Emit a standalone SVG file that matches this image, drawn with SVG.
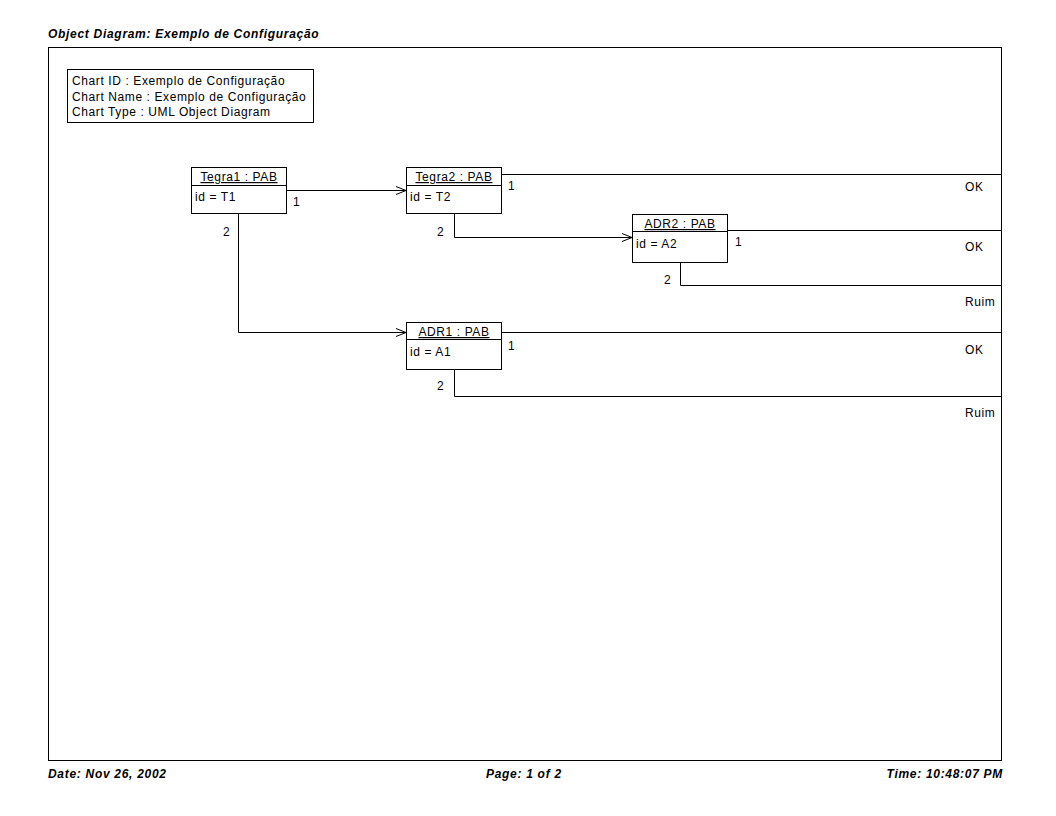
<svg xmlns="http://www.w3.org/2000/svg" width="1056" height="816" viewBox="0 0 1056 816">
<style>
text{font-family:"Liberation Sans",Arial,sans-serif;font-size:12px;fill:#000;letter-spacing:0.6px}
.hdr{font-weight:bold;font-style:italic;font-size:12px;letter-spacing:0.7px}
.box{fill:#fff;stroke:#000;stroke-width:1}
.ln{fill:none;stroke:#000;stroke-width:1}
.u{text-decoration:underline}
</style>
<defs>
<marker id="arr" viewBox="0 0 10 10" refX="10" refY="5" markerWidth="10" markerHeight="10" markerUnits="userSpaceOnUse" orient="auto">
<path d="M0,1 L10,5 L0,9" fill="none" stroke="#000" stroke-width="1"/>
</marker>
</defs>
<rect width="1056" height="816" fill="#fff"/>
<text class="hdr" x="48" y="38">Object Diagram: Exemplo de Configuração</text>
<rect x="48.5" y="47.5" width="953" height="713" class="ln"/>
<g id="info">
<rect x="67.5" y="69.5" width="246" height="53" class="box"/>
<text x="72" y="85">Chart ID : Exemplo de Configuração</text>
<text x="72" y="101">Chart Name : Exemplo de Configuração</text>
<text x="72" y="116">Chart Type : UML Object Diagram</text>
</g>
<g id="connectors">
<path class="ln" d="M287,190.5 H406" marker-end="url(#arr)"/>
<path class="ln" d="M238.5,214 V332.5 H406" marker-end="url(#arr)"/>
<path class="ln" d="M454.5,214 V237.5 H632" marker-end="url(#arr)"/>
<path class="ln" d="M502,174.5 H1001"/>
<path class="ln" d="M727,230.5 H1001"/>
<path class="ln" d="M680.5,262 V285.5 H1001"/>
<path class="ln" d="M502,332.5 H1001"/>
<path class="ln" d="M454.5,370 V396.5 H1001"/>
<text x="293" y="206">1</text>
<text x="223" y="236">2</text>
<text x="437" y="236">2</text>
<text x="508" y="190">1</text>
<text x="965" y="191">OK</text>
<text x="735" y="246">1</text>
<text x="965" y="251">OK</text>
<text x="664" y="284">2</text>
<text x="965" y="306">Ruim</text>
<text x="508" y="350">1</text>
<text x="965" y="354">OK</text>
<text x="437" y="390">2</text>
<text x="965" y="417">Ruim</text>
</g>
<g id="Tegra1">
<rect x="191.5" y="167.5" width="95" height="46" class="box"/>
<line x1="191.5" y1="185.5" x2="286.5" y2="185.5" class="ln"/>
<text x="239" y="181" text-anchor="middle" class="u">Tegra1 : PAB</text>
<text x="195" y="201">id = T1</text>
</g>
<g id="Tegra2">
<rect x="406.5" y="167.5" width="95" height="46" class="box"/>
<line x1="406.5" y1="185.5" x2="501.5" y2="185.5" class="ln"/>
<text x="454" y="181" text-anchor="middle" class="u">Tegra2 : PAB</text>
<text x="410" y="201">id = T2</text>
</g>
<g id="ADR2">
<rect x="632.5" y="214.5" width="95" height="48" class="box"/>
<line x1="632.5" y1="231.5" x2="727.5" y2="231.5" class="ln"/>
<text x="680" y="228" text-anchor="middle" class="u">ADR2 : PAB</text>
<text x="636" y="248">id = A2</text>
</g>
<g id="ADR1">
<rect x="406.5" y="322.5" width="95" height="47" class="box"/>
<line x1="406.5" y1="339.5" x2="501.5" y2="339.5" class="ln"/>
<text x="454" y="336" text-anchor="middle" class="u">ADR1 : PAB</text>
<text x="410" y="356">id = A1</text>
</g>
<text class="hdr" x="48" y="778">Date: Nov 26, 2002</text>
<text class="hdr" x="486" y="778">Page: 1 of 2</text>
<text class="hdr" x="1003" y="778" text-anchor="end">Time: 10:48:07 PM</text>
</svg>
